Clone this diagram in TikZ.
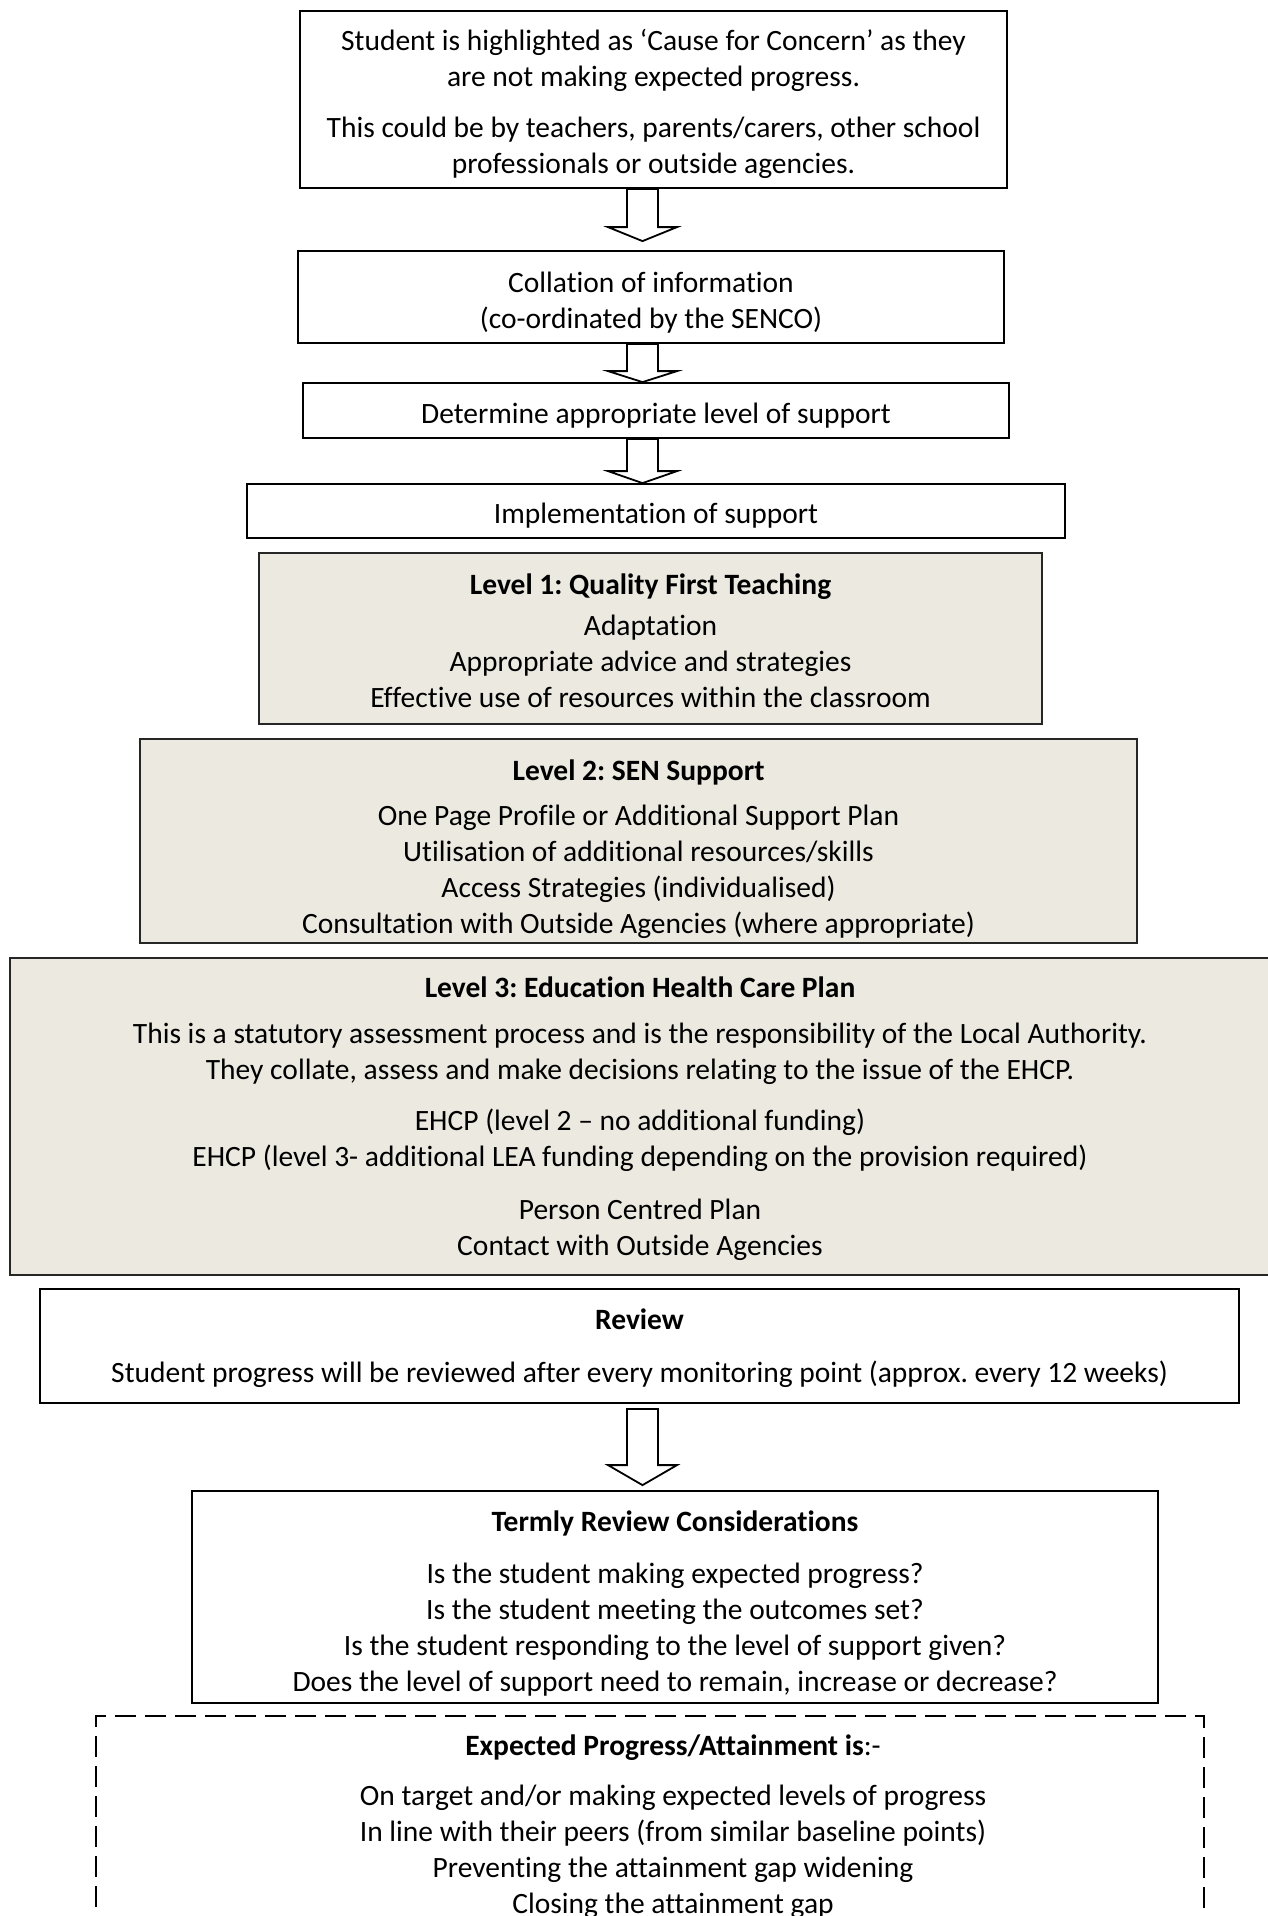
\documentclass[tikz,border=0pt]{standalone}
\usepackage{fontspec}
\setmainfont[Ligatures=NoCommon]{Carlito}
\usetikzlibrary{calc}
\definecolor{levelfill}{RGB}{236,233,224}
\frenchspacing

\tikzset{
  stepbox/.style={draw, line width=0.9pt, inner sep=0pt},
  levelbox/.style={stepbox, fill=levelfill, draw=black!85, line width=1.3pt},
  dashbox/.style={draw, line width=1.4pt, dash pattern=on 10.5pt off 4.5pt, inner sep=0pt},
  boxtext/.style={inner sep=0pt, align=center, font=\fontsize{14.75}{18}\selectfont},
  hollow/.style={draw, line width=0.9pt, fill=white}
}

% hollow block arrow: start point, tip point, head length
\newcommand{\hollowdown}[3]{%
  \draw[hollow] let \p1=#1, \p2=#2 in
    (\x1-7.75pt,\y1) -- (\x1-7.75pt,\y2-#3) -- (\x1-17.25pt,\y2-#3) -- (\x1,\y2)
    -- (\x1+17.25pt,\y2-#3) -- (\x1+7.75pt,\y2-#3) -- (\x1+7.75pt,\y1) -- cycle;}

\begin{document}
\begin{tikzpicture}[x=0.5pt,y=0.5pt,yscale=-1,xscale=1]
\useasboundingbox (0,0) rectangle (1268,1916);

% Boxes
\node[stepbox, minimum width=353.5pt, minimum height=88.5pt] (concern) at (653.5,99.5) {};
\node[stepbox, minimum width=353pt, minimum height=46pt] (collate) at (651,297) {};
\node[stepbox, minimum width=353pt, minimum height=27.5pt] (determine) at (656,410.5) {};
\node[stepbox, minimum width=409pt, minimum height=27pt] (implement) at (656,511) {};
\node[levelbox, minimum width=391.5pt, minimum height=85.5pt] (level1) at (650.5,638.5) {};
\node[levelbox, minimum width=498.5pt, minimum height=102pt] (level2) at (638.5,841) {};
\node[levelbox, minimum width=630pt, minimum height=158.5pt] (level3) at (640,1116.5) {};
\node[stepbox, minimum width=599.5pt, minimum height=57pt] (review) at (639.5,1346) {};
\node[stepbox, minimum width=483pt, minimum height=106pt] (termly) at (675,1597) {};
\node[dashbox, minimum width=554pt, minimum height=112pt] (expected) at (650,1828) {};

% Text Node
\node[boxtext] (concerntext) at (653.5,104)
  {Student is highlighted as ‘Cause for Concern’ as they\\ are not making expected progress.\\[7.5pt]
   This could be by teachers, parents/carers, other school\\ professionals or outside agencies.};
% Text Node
\node[boxtext] (collatetext) at (651,302.5)
  {Collation of information\\ (co-ordinated by the SENCO)};
% Text Node
\node[boxtext] (determinetext) at (656,415.5) {Determine appropriate level of support};
% Text Node
\node[boxtext] (implementtext) at (656,516) {Implementation of support};
% Text Node
\node[boxtext] (level1text) at (650.5,640.5)
  {\textbf{Level 1: Quality First Teaching}\\[2.5pt] Adaptation\\ Appropriate advice and strategies\\
   Effective use of resources within the classroom};
% Text Node
\node[boxtext] (level2text) at (638.5,849)
  {\textbf{Level 2: SEN Support}\\[4.5pt] One Page Profile or Additional Support Plan\\
   Utilisation of additional resources/skills\\ Access Strategies (individualised)\\
   Consultation with Outside Agencies (where appropriate)};
% Text Node
\node[boxtext] (level3text) at (640,1118.5)
  {\textbf{Level 3: Education Health Care Plan}\\[5pt]
   This is a statutory assessment process and is the responsibility of the Local Authority.\\
   They collate, assess and make decisions relating to the issue of the EHCP.\\[7.5pt]
   EHCP (level 2 – no additional funding)\\
   EHCP (level 3- additional LEA funding depending on the provision required)\\[8.5pt]
   Person Centred Plan\\ Contact with Outside Agencies};
% Text Node
\node[boxtext] (reviewtext) at (639.5,1348.5)
  {\textbf{Review}\\[8.5pt]
   Student progress will be reviewed after every monitoring point (approx. every 12 weeks)};
% Text Node
\node[boxtext] (termlytext) at (675,1604)
  {\textbf{Termly Review Considerations}\\[8pt]
   Is the student making expected progress?\\ Is the student meeting the outcomes set?\\
   Is the student responding to the level of support given?\\
   Does the level of support need to remain, increase or decrease?};
% Text Node
\node[boxtext] (expectedtext) at (673,1827)
  {\textbf{Expected Progress/Attainment is}:-\\[7pt]
   On target and/or making expected levels of progress\\
   In line with their peers (from similar baseline points)\\
   Preventing the attainment gap widening\\ Closing the attainment gap};

% Arrows
\coordinate (ax) at (642.5,0);
\hollowdown{(concern.south -| ax)}{($(collate.north -| ax)+(0,-9)$)}{7pt}
\hollowdown{(collate.south -| ax)}{(determine.north -| ax)}{5.5pt}
\hollowdown{(determine.south -| ax)}{(implement.north -| ax)}{6pt}
\hollowdown{($(review.south -| ax)+(0,5)$)}{($(termly.north -| ax)+(0,-5)$)}{10pt}

\end{tikzpicture}
\end{document}
